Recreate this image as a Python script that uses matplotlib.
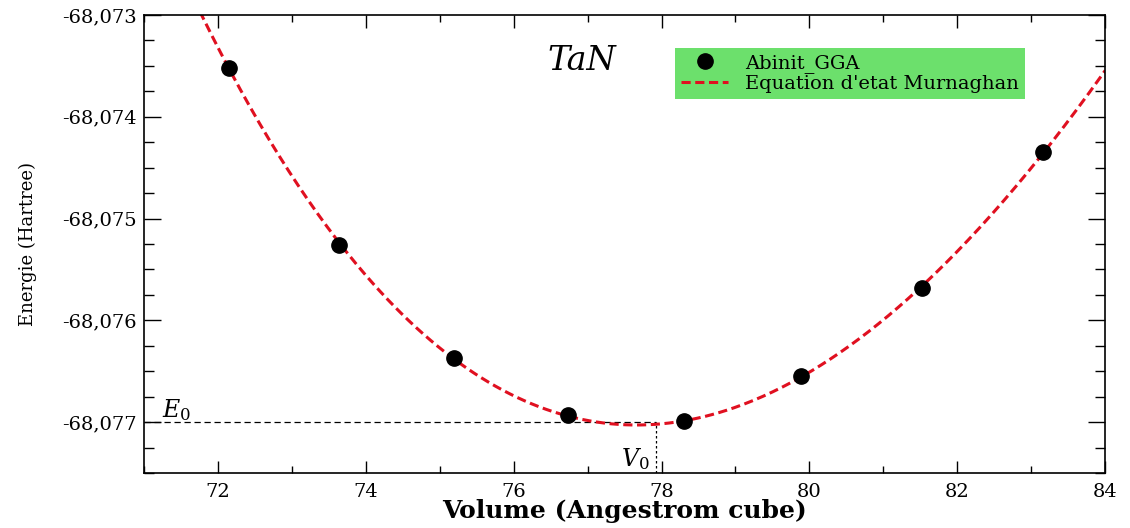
import numpy as np
import matplotlib.pyplot as plt
from matplotlib.ticker import MultipleLocator, FuncFormatter

# data (volume in A^3, energy in Hartree)
volume = [72.15, 73.64, 75.19, 76.73, 78.30, 79.89, 81.52, 83.16]
energy = [-68.07352, -68.075255, -68.07637, -68.07693, -68.07699, -68.07655, -68.07568, -68.07435]

# equilibrium point marked on the chart
E0_mark = -68.077
V0_mark = 77.93

x_ticks = [72, 74, 76, 78, 80, 82, 84]
y_ticks = [-68.077, -68.076, -68.075, -68.074, -68.073]


def murnaghan(v, e0, v0, b0, bp):
    return e0 + b0 * v / bp * ((v0 / v) ** bp / (bp - 1) + 1) - b0 * v0 / (bp - 1)


def fit_murnaghan(v, e):
    # grid over V0 and B0', least squares for E0 and B0
    v = np.asarray(v)
    e = np.asarray(e)
    em = e.mean()
    best = None
    for v0 in np.arange(77.0, 79.0, 0.02):
        for bp in np.arange(-4.0, 8.0, 0.05):
            if abs(bp) < 1e-6 or abs(bp - 1) < 1e-6:
                continue
            f = v / bp * ((v0 / v) ** bp / (bp - 1) + 1) - v0 / (bp - 1)
            a = np.column_stack([np.ones_like(v), f])
            coef = np.linalg.lstsq(a, e - em, rcond=None)[0]
            r = np.sum((a @ coef - (e - em)) ** 2)
            if best is None or r < best[0]:
                best = (r, coef[0] + em, v0, coef[1], bp)
    return best[1:]


e0, v0, b0, bp = fit_murnaghan(volume, energy)

plt.rcParams['font.family'] = ['DejaVu Serif']
plt.rcParams['mathtext.fontset'] = 'custom'
plt.rcParams['mathtext.rm'] = 'DejaVu Serif'
plt.rcParams['mathtext.it'] = 'DejaVu Serif:italic'

fig = plt.figure(figsize=(11.3, 5.28), dpi=100)
ax = fig.add_axes([0.1274, 0.104, 0.8506, 0.8676])

vv = np.linspace(71.0, 84.0, 400)
ax.plot(vv, murnaghan(vv, e0, v0, b0, bp), color='#e01020', lw=2.2,
        dashes=(3, 1.5), label="Equation d'etat Murnaghan", zorder=2)
ax.plot(volume, energy, 'o', color='black', ms=11, ls='none',
        label='Abinit_GGA', zorder=3)

# E0 / V0 guides
ax.plot([71.0, V0_mark], [E0_mark, E0_mark], color='black', lw=0.9, ls=(0, (5, 3)), zorder=1)
ax.plot([V0_mark, V0_mark], [-68.0775, E0_mark], color='black', lw=0.9, ls=(0, (2, 2)), zorder=1)
ax.text(71.25, E0_mark + 0.00005, r'$E_{\mathit{0}}$', fontsize=17)
ax.text(V0_mark - 0.48, -68.07743, r'$V_{\mathit{0}}$', fontsize=17)

ax.text(0.42, 0.88, 'TaN', transform=ax.transAxes, fontsize=24, style='italic')

ax.set_xlim(71, 84)
ax.set_ylim(-68.0775, -68.073)
ax.set_xticks(x_ticks)
ax.set_yticks(y_ticks)
ax.xaxis.set_minor_locator(MultipleLocator(1))
ax.yaxis.set_minor_locator(MultipleLocator(0.00025))
ax.yaxis.set_major_formatter(FuncFormatter(lambda y, p: f'{y:.3f}'.replace('.', ',')))
ax.tick_params(which='both', direction='in', top=True, right=True, labelsize=14, width=1)
ax.tick_params(axis='x', which='major', length=9, pad=7)
ax.tick_params(axis='x', which='minor', length=5)
ax.tick_params(axis='y', which='major', length=12, pad=5)
ax.tick_params(axis='y', which='minor', length=7)
for s in ax.spines.values():
    s.set_linewidth(1.2)

ax.set_xlabel('Volume (Angestrom cube)', fontsize=18, fontweight='bold', labelpad=-1)
ax.set_ylabel('Energie (Hartree)', fontsize=13, labelpad=18)

handles, labels = ax.get_legend_handles_labels()
leg = ax.legend(handles[::-1], labels[::-1], loc='upper left',
                bbox_to_anchor=(0.553, 0.928), fontsize=14, frameon=True,
                fancybox=False, facecolor='#6ce06c', edgecolor='none',
                framealpha=1, borderpad=0.3, labelspacing=0.1,
                handlelength=2.4, handletextpad=0.9, borderaxespad=0)

fig.savefig('out.png', dpi=100)
